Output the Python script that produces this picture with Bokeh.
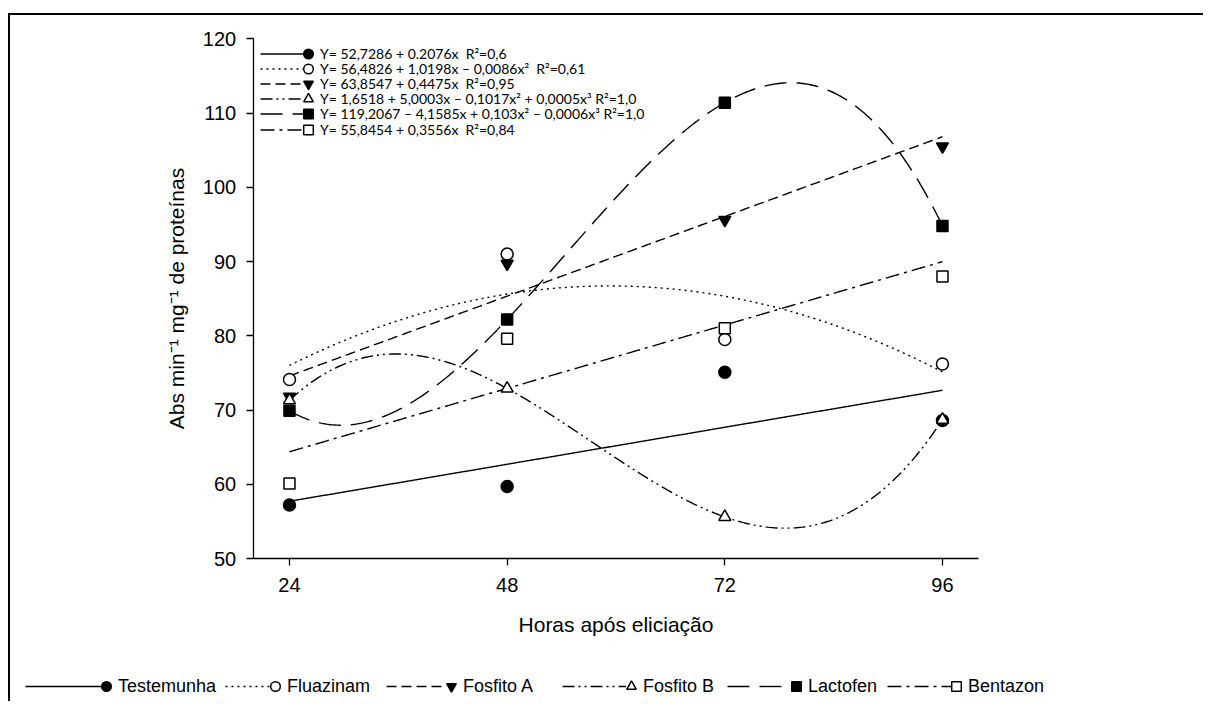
import numpy as np
from bokeh.plotting import figure
from bokeh.models import Legend, LegendItem, FixedTicker, Range1d
from bokeh.embed import file_html
from bokeh.resources import INLINE
from bokeh.core.properties import value

# ---------------- data ----------------
hours = [24, 48, 72, 96]
series_names = ["Testemunha", "Fluazinam", "Fosfito A", "Fosfito B", "Lactofen", "Bentazon"]
testemunha = [57.2, 59.7, 75.1, 68.6]
fluazinam = [74.1, 91.0, 79.5, 76.2]
fosfito_a = [71.8, 89.7, 95.6, 105.5]
fosfito_b = [71.3, 72.9, 55.6, 68.7]
lactofen = [69.9, 82.2, 111.4, 94.8]
bentazon = [60.1, 79.6, 81.0, 88.0]

# printed regression coefficients (constant first); None -> cubic fitted to the points (R2 = 1,0)
coef_testemunha = [52.7286, 0.2076]
coef_fluazinam = [56.4826, 1.0198, -0.0086]
coef_fosfito_a = [63.8547, 0.4475]
coef_fosfito_b = None
coef_lactofen = None
coef_bentazon = [55.8454, 0.3556]

equations = [
    "Y= 52,7286 + 0.2076x  R²=0,6",
    "Y= 56,4826 + 1,0198x – 0,0086x²  R²=0,61",
    "Y= 63,8547 + 0,4475x  R²=0,95",
    "Y= 1,6518 + 5,0003x – 0,1017x² + 0,0005x³ R²=1,0",
    "Y= 119,2067 – 4,1585x + 0,103x² – 0,0006x³ R²=1,0",
    "Y= 55,8454 + 0,3556x  R²=0,84",
]
x_ticks = [24, 48, 72, 96]
y_ticks = [50, 60, 70, 80, 90, 100, 110, 120]
x_bounds = (20, 100)
y_bounds = (50, 120)

values = [testemunha, fluazinam, fosfito_a, fosfito_b, lactofen, bentazon]
coefs = [coef_testemunha, coef_fluazinam, coef_fosfito_a, coef_fosfito_b, coef_lactofen, coef_bentazon]

# ---------------- layout (page pixels) ----------------
W, H = 1195, 688
CANVAS_X, CANVAS_Y = 10, 15          # canvas origin on page (after margin + border)
AXIS_X_PAGE = 252.7                  # page x of the y axis (x = 20)
TOP_Y_PAGE = 38.3                    # page y of y = 120
PX_X = (942.0 - 289.0) / 72.0        # pixels per hour
PX_Y = (558.0 - 38.3) / 70.0         # pixels per unit
x_low = x_bounds[0] - (AXIS_X_PAGE - CANVAS_X) / PX_X
x_high = x_low + W / PX_X
y_high = y_bounds[1] + (TOP_Y_PAGE - CANVAS_Y) / PX_Y
y_low = y_high - H / PX_Y

# ---------------- styles ----------------
dashes = ["solid", "2 4", "10 5", "12 4 2 4 2 4", "22 10", "14 5 3 5"]
markers = ["circle", "circle", "inverted_triangle", "triangle", "square", "square"]
fills = ["black", "white", "black", "white", "black", "white"]
msize = [12, 12, 12, 12, 11, 11]
FONT = "Liberation Sans"

p = figure(width=W, height=H, x_range=Range1d(x_low, x_high), y_range=Range1d(y_low, y_high),
           output_backend="svg", toolbar_location=None,
           min_border_left=0, min_border_right=0, min_border_top=0, min_border_bottom=0)
p.styles = {"border-top": "2px solid black", "border-left": "2px solid black",
            "margin-top": "13px", "margin-left": "8px"}
p.outline_line_color = None
p.grid.visible = False
p.background_fill_color = "white"
p.border_fill_color = "white"

for ax in (p.xaxis[0], p.yaxis[0]):
    ax.axis_line_width = 1.3
    ax.major_tick_line_width = 1.3
    ax.major_tick_out = 7
    ax.major_tick_in = 0
    ax.minor_tick_line_color = None
    ax.major_label_text_font = FONT
    ax.major_label_text_font_size = "20px"
    ax.major_label_text_color = "black"
    ax.axis_label_text_font = FONT
    ax.axis_label_text_font_size = "21px"
    ax.axis_label_text_font_style = "normal"
    ax.axis_label_text_color = "black"

p.xaxis.ticker = FixedTicker(ticks=x_ticks)
p.yaxis.ticker = FixedTicker(ticks=y_ticks)
p.xaxis.fixed_location = y_bounds[0]
p.yaxis.fixed_location = x_bounds[0]
p.xaxis.bounds = x_bounds
p.yaxis.bounds = y_bounds
p.xaxis.axis_label = "Horas após eliciação"
p.yaxis.axis_label = "Abs min⁻¹ mg⁻¹ de proteínas"
p.xaxis.major_label_standoff = 12
p.xaxis.axis_label_standoff = 18
p.yaxis.major_label_standoff = 10
p.yaxis.axis_label_standoff = 12

xs = np.linspace(hours[0], hours[-1], 300)
line_rs, mark_rs = [], []
for i, (vals, c) in enumerate(zip(values, coefs)):
    if c is None:
        poly = np.polyfit(hours, vals, 3)
        ys = np.polyval(poly, xs)
    else:
        ys = sum(ci * xs ** k for k, ci in enumerate(c))
    lr = p.line(xs, ys, line_color="black", line_width=1.4, line_dash=dashes[i])
    line_rs.append(lr)

for i, vals in enumerate(values):
    mr = p.scatter(hours, vals, marker=markers[i], size=msize[i], fill_color=fills[i],
                   line_color="black", line_width=1.5)
    mark_rs.append(mr)

FRAME_BOTTOM = CANVAS_Y + H
GH = 25          # glyph box height (sets legend marker size)


def legend_sy(center, gh):
    """screen offset (from frame bottom) of a one-row legend centred at page y = center"""
    return FRAME_BOTTOM - (center + gh / 2)


def one_item_legend(renderer, label, x_page, center, glyph_w, gh, font=None, size=None):
    kw = dict(label_text_font_size="1px", label_width=0) if font is None else \
        dict(label_text_font=font, label_text_font_size=size, label_text_color="black")
    return Legend(items=[LegendItem(label=value(label), renderers=[renderer])],
                  location=(x_page - CANVAS_X, legend_sy(center, gh)), orientation="vertical",
                  glyph_width=glyph_w, glyph_height=gh, label_height=gh, label_standoff=0,
                  spacing=0, padding=0, margin=0, border_line_color=None,
                  background_fill_alpha=0, **kw)


# ---- inner legend (equations): line sample, marker, equation
ROW1, PITCH = 53, 15.2
for k in range(6):
    c = ROW1 + PITCH * k
    p.add_layout(one_item_legend(line_rs[k], "", 260, c, 43, GH))
    p.add_layout(one_item_legend(mark_rs[k], equations[k], 308 - 12, c, 24, GH, "Lato", "14px"))

# ---- bottom legend (series names)
bottom_line_start = [25, 225, 386, 562, 727, 887]
bottom_line_end = [101, 270, 446, 626, 791, 951]
ROW_B = 686
for i in range(6):
    p.add_layout(one_item_legend(line_rs[i], "", bottom_line_start[i], ROW_B,
                                 bottom_line_end[i] - bottom_line_start[i], 24))
    p.add_layout(one_item_legend(mark_rs[i], series_names[i], bottom_line_end[i] + 5 - 12, ROW_B,
                                 24, 24, FONT, "18px"))

open("out.html", "w").write(file_html(p, INLINE))
